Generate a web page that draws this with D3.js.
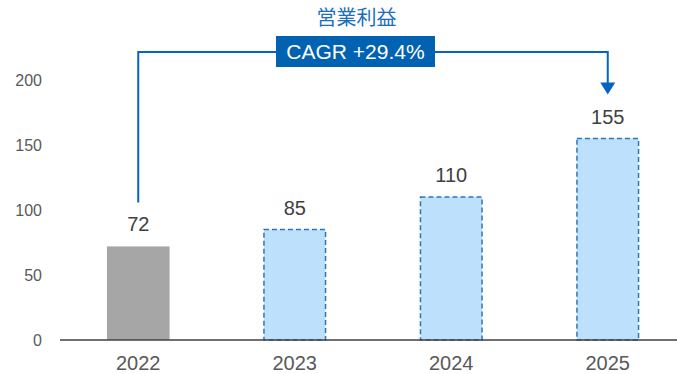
<!DOCTYPE html>
<html>
<head>
<meta charset="utf-8">
<script src="https://cdn.jsdelivr.net/npm/d3@7"></script>
<style>
  html, body { margin: 0; padding: 0; background: #fff; }
  svg { display: block; font-family: "Liberation Sans", Arial, sans-serif; }
</style>
</head>
<body>
<svg id="chart" width="677" height="374"></svg>
<script>
// Operating profit by fiscal year (2022 actual, 2023–2025 plan)
const years = ["2022", "2023", "2024", "2025"];
const profit = [72, 85, 110, 155];
const isForecast = [false, true, true, true];
const yTicks = [0, 50, 100, 150, 200];
const title = "営業利益";
const cagrLabel = "CAGR +29.4%";

const svg = d3.select("#chart");

const x = d3.scaleBand()
  .domain(years)
  .range([60, 686])
  .paddingInner(0.6)
  .paddingOuter(0.3);

const y = d3.scaleLinear().domain([0, 200]).range([340, 80]);

const rows = years.map((yr, i) => ({ yr, v: profit[i], fc: isForecast[i] }));

// y axis labels (no axis line)
const yAxis = d3.axisLeft(y).tickValues(yTicks).tickSize(0).tickPadding(0);
const gy = svg.append("g").attr("transform", "translate(42,0)").call(yAxis);
gy.select(".domain").remove();
gy.selectAll("text")
  .attr("fill", "#595959")
  .style("font-size", "16px")
  .style("font-family", "'Liberation Sans', Arial, sans-serif");

// bars
svg.append("g").selectAll("rect")
  .data(rows)
  .join("rect")
  .attr("x", d => x(d.yr) + (d.fc ? 0.5 : 0))
  .attr("y", d => y(d.v))
  .attr("width", d => x.bandwidth() - (d.fc ? 1 : 0))
  .attr("height", d => y(0) - y(d.v))
  .attr("fill", d => d.fc ? "#BDE0FC" : "#A6A6A6")
  .attr("stroke", d => d.fc ? "#2E75B6" : "none")
  .attr("stroke-width", 1.5)
  .attr("stroke-dasharray", "5,3");

// baseline
svg.append("line")
  .attr("x1", 60).attr("x2", 677)
  .attr("y1", y(0)).attr("y2", y(0))
  .attr("stroke", "#404040").attr("stroke-width", 1.5);

// x axis labels
const xAxis = d3.axisBottom(x).tickSize(0).tickPadding(0);
const gx = svg.append("g").attr("transform", `translate(0,${y(0) + 16})`).call(xAxis);
gx.select(".domain").remove();
gx.selectAll("text")
  .attr("fill", "#595959")
  .style("font-size", "20px")
  .style("font-family", "'Liberation Sans', Arial, sans-serif");

// value labels
svg.append("g").selectAll("text")
  .data(rows)
  .join("text")
  .attr("x", d => x(d.yr) + x.bandwidth() / 2)
  .attr("y", d => y(d.v) - 15)
  .attr("text-anchor", "middle")
  .attr("fill", "#404040")
  .style("font-size", "20px")
  .text(d => d.v);

// CAGR bracket from first to last bar
const blue = "#0563C1";
const cx0 = x(years[0]) + x.bandwidth() / 2;
const cx1 = x(years[years.length - 1]) + x.bandwidth() / 2;
const bracketY = 52;
const legBottom = y(profit[0]) - 44;
const arrowTip = y(profit[profit.length - 1]) - 44;

svg.append("path")
  .attr("d", `M${cx0},${legBottom} V${bracketY} H${cx1} V${arrowTip - 10}`)
  .attr("fill", "none")
  .attr("stroke", blue)
  .attr("stroke-width", 2);

svg.append("path")
  .attr("d", `M${cx1 - 7.5},${arrowTip - 12} L${cx1 + 7.5},${arrowTip - 12} L${cx1},${arrowTip} Z`)
  .attr("fill", blue);

// CAGR box
const boxX = 276, boxW = 159, boxY = 36, boxH = 31;
svg.append("rect")
  .attr("x", boxX).attr("y", boxY)
  .attr("width", boxW).attr("height", boxH)
  .attr("fill", "#0062B0");

svg.append("text")
  .attr("x", boxX + boxW / 2)
  .attr("y", boxY + boxH / 2 + 7.5)
  .attr("text-anchor", "middle")
  .attr("fill", "#ffffff")
  .style("font-size", "21px")
  .text(cagrLabel);

svg.append("text")
  .attr("x", boxX + boxW / 2 + 1)
  .attr("y", 25)
  .attr("text-anchor", "middle")
  .attr("fill", "#1A6EBF")
  .style("font-family", "'Noto Sans CJK JP', sans-serif")
  .style("font-size", "20px")
  .text(title);
</script>
</body>
</html>
